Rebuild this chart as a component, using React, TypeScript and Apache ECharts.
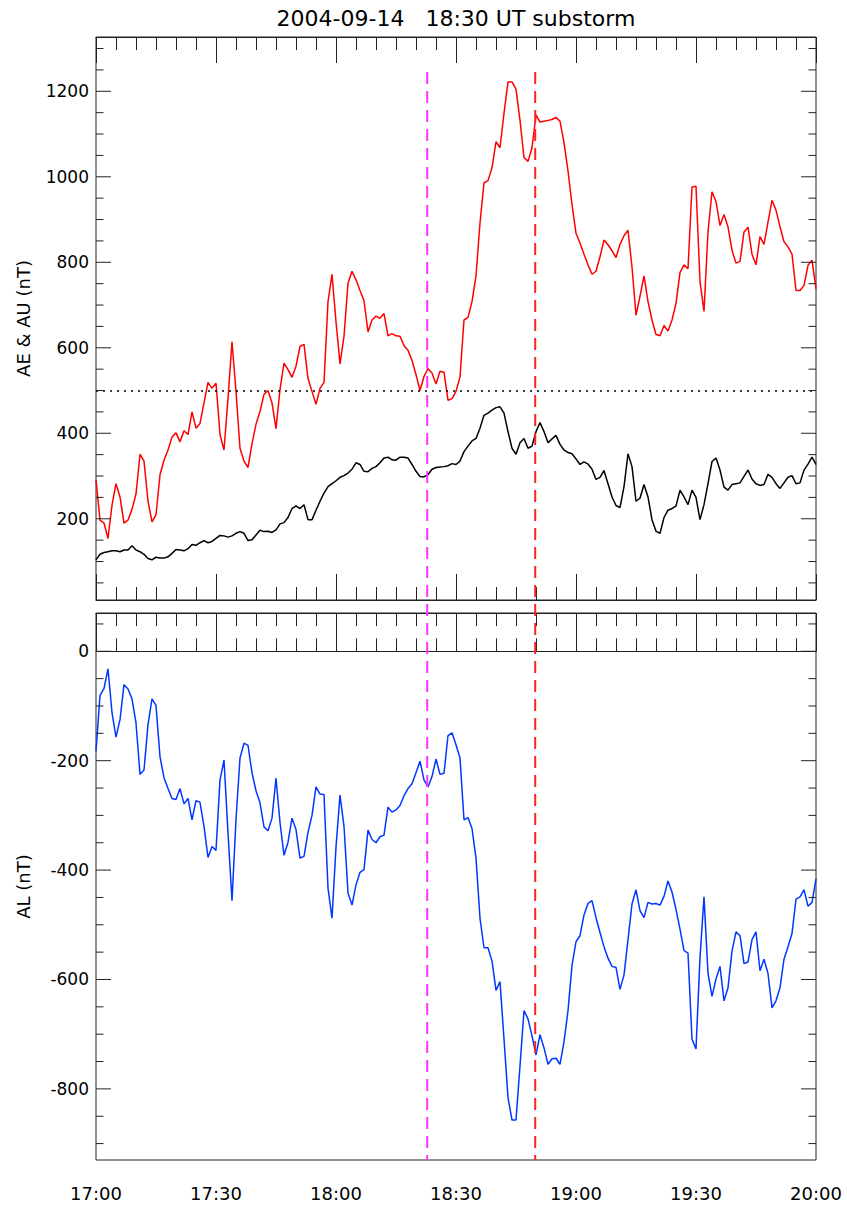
import React, { useEffect, useRef } from "react";
import * as echarts from "echarts";

// ---------- data (1-minute cadence starting 17:00 UT) ----------
const START_HOUR = 17;
const TITLE = "2004-09-14   18:30 UT substorm";

const AE = [
  292, 197, 190, 154, 232, 282, 251, 190, 197, 222, 258, 351, 335, 241, 193, 209, 303, 337, 361, 391,
  401, 380, 406, 397, 450, 412, 423, 471, 519, 505, 517, 397, 361, 481, 614, 498, 365, 335, 320, 376,
  421, 451, 491, 500, 471, 411, 502, 564, 549, 531, 557, 603, 608, 528, 498, 468, 505, 519, 708, 772,
  661, 562, 627, 751, 779, 759, 734, 710, 637, 665, 674, 669, 680, 628, 633, 628, 627, 605, 594, 571,
  537, 500, 533, 551, 541, 515, 545, 543, 477, 481, 498, 532, 665, 671, 708, 768, 892, 986, 991, 1021,
  1082, 1068, 1149, 1222, 1222, 1205, 1132, 1045, 1036, 1068, 1145, 1128, 1130, 1132, 1134, 1139, 1130, 1080, 1014, 935,
  868, 845, 819, 794, 772, 779, 813, 852, 841, 827, 811, 842, 862, 875, 789, 676, 721, 768, 708, 665,
  631, 628, 652, 639, 665, 704, 776, 794, 785, 976, 978, 755, 685, 871, 965, 942, 886, 912, 883, 828,
  798, 802, 871, 882, 819, 794, 860, 842, 894, 945, 922, 883, 848, 836, 819, 734, 734, 746, 793, 805,
  738,
];

const AU = [
  104, 117, 121, 123, 125, 125, 123, 127, 127, 137, 127, 123, 117, 107, 104, 110, 108, 108, 111, 119,
  128, 127, 125, 130, 140, 138, 144, 149, 144, 147, 154, 161, 160, 157, 160, 166, 170, 166, 149, 151,
  162, 173, 170, 171, 168, 174, 188, 191, 203, 224, 230, 224, 233, 198, 198, 220, 241, 260, 275, 282,
  289, 297, 301, 307, 316, 331, 327, 311, 310, 318, 322, 331, 342, 344, 338, 337, 344, 344, 342, 327,
  311, 299, 298, 303, 316, 320, 321, 322, 324, 329, 327, 335, 357, 370, 382, 388, 412, 442, 447, 454,
  460, 462, 447, 404, 365, 351, 378, 388, 365, 370, 404, 425, 404, 378, 387, 395, 374, 361, 355, 352,
  340, 327, 333, 328, 316, 292, 297, 313, 282, 251, 231, 226, 275, 352, 322, 241, 248, 280, 251, 198,
  171, 166, 203, 220, 224, 230, 267, 251, 233, 267, 250, 198, 233, 282, 334, 342, 314, 274, 267, 280,
  282, 284, 299, 314, 293, 282, 278, 280, 304, 297, 282, 271, 284, 297, 301, 282, 284, 314, 328, 344,
  327,
];

const AL = [
  -183, -81, -68, -32, -112, -157, -125, -61, -69, -87, -131, -225, -217, -134, -87, -99, -193, -231, -251, -269,
  -271, -251, -279, -269, -308, -273, -276, -320, -377, -357, -364, -235, -199, -332, -456, -307, -195, -168, -172, -222,
  -255, -277, -321, -328, -305, -232, -313, -373, -349, -305, -326, -378, -375, -331, -300, -248, -261, -262, -433, -488,
  -358, -263, -320, -442, -464, -427, -404, -399, -327, -344, -350, -339, -336, -285, -294, -290, -282, -264, -251, -242,
  -222, -201, -235, -248, -229, -197, -225, -223, -154, -149, -171, -195, -308, -304, -324, -378, -488, -542, -542, -566,
  -620, -604, -709, -816, -857, -857, -758, -657, -672, -703, -738, -701, -725, -755, -745, -744, -755, -714, -657, -574,
  -531, -520, -482, -461, -456, -487, -514, -540, -561, -576, -578, -618, -592, -527, -462, -436, -474, -487, -459, -462,
  -461, -464, -448, -420, -440, -472, -508, -547, -552, -709, -727, -560, -449, -589, -631, -599, -576, -639, -615, -548,
  -513, -520, -571, -568, -527, -513, -584, -563, -589, -652, -639, -615, -563, -540, -516, -453, -449, -436, -466, -459,
  -416,
];

const TOP_LABELS = [200, 400, 600, 800, 1000, 1200];
const BOTTOM_LABELS = [0, -200, -400, -600, -800];
const MINOR_STEP = 50;
const TOP_RANGE = [10, 1327];
const BOTTOM_RANGE = [-930, 70];
const X_RANGE = [0, 180];
const THRESHOLD = 500;
const EVENTS = [
  { t: 82.8, color: "#ff33ff" },
  { t: 109.8, color: "#ff2020" },
];
const EVENT_TOP_VALUE = 1245;

// ---------- layout ----------
const W = 847;
const H = 1209;
const LEFT = 96;
const PW = 720;
const G1 = { top: 37, height: 563 };
const G2 = { top: 613, height: 547 };
const FONT = '"DejaVu Sans", "Liberation Sans", sans-serif';
const AXIS_COLOR = "#222";

function fmtTime(v: number) {
  const h = START_HOUR + Math.floor(v / 60);
  const m = Math.round(v % 60);
  return `${h}:${m < 10 ? "0" + m : m}`;
}

function tickValues(range: number[]) {
  const out: number[] = [];
  for (let v = Math.ceil(range[0] / MINOR_STEP) * MINOR_STEP; v <= range[1]; v += MINOR_STEP) out.push(v);
  return out;
}

function xAxis(gridIndex: number, position: string, showLabels: boolean) {
  return {
    type: "value",
    gridIndex,
    position,
    min: X_RANGE[0],
    max: X_RANGE[1],
    interval: 30,
    axisLine: { show: true, lineStyle: { color: AXIS_COLOR, width: 1 } },
    axisTick: { show: true, inside: true, length: 26, lineStyle: { color: AXIS_COLOR, width: 1 } },
    minorTick: { show: true, splitNumber: 6, length: 13, lineStyle: { color: AXIS_COLOR, width: 1 } },
    splitLine: { show: false },
    minorSplitLine: { show: false },
    axisLabel: {
      show: showLabels,
      formatter: (v: number) => fmtTime(v),
      fontSize: 18,
      fontFamily: FONT,
      color: "#000",
      margin: 24,
    },
  };
}

function yAxis(gridIndex: number, range: number[], name: string) {
  return {
    type: "value",
    gridIndex,
    min: range[0],
    max: range[1],
    axisLine: { show: false },
    axisTick: { show: false },
    axisLabel: { show: false },
    splitLine: { show: false },
    name,
    nameLocation: "middle",
    nameGap: 64,
    nameRotate: 90,
    nameTextStyle: { fontSize: 18, fontFamily: FONT, color: "#000" },
  };
}

function yTickSeries(xAxisIndex: number, yAxisIndex: number, range: number[], labels: number[]) {
  return {
    type: "custom",
    xAxisIndex,
    yAxisIndex,
    clip: false,
    silent: true,
    z: 5,
    data: tickValues(range).map((v) => [X_RANGE[0], v]),
    encode: { x: 0, y: 1 },
    renderItem: (params: any, api: any) => {
      const v = api.value(1);
      const L = api.coord([X_RANGE[0], v]);
      const R = api.coord([X_RANGE[1], v]);
      const major = labels.indexOf(v) >= 0;
      const len = major ? 15 : 7.5;
      const style = { stroke: AXIS_COLOR, lineWidth: 1 };
      const children: any[] = [
        { type: "line", shape: { x1: L[0], y1: L[1], x2: L[0] + len, y2: L[1] }, style },
        { type: "line", shape: { x1: R[0] - len, y1: R[1], x2: R[0], y2: R[1] }, style },
      ];
      if (major) {
        children.push({
          type: "text",
          x: L[0] - 7,
          y: L[1],
          style: {
            text: String(v),
            align: "right",
            verticalAlign: "middle",
            font: `17px ${FONT}`,
            fill: "#000",
          },
        });
      }
      return { type: "group", children };
    },
  };
}

export default function App() {
  const ref = useRef<HTMLDivElement>(null);

  useEffect(() => {
    if (!ref.current) return;
    const chart = echarts.init(ref.current, null, { renderer: "svg", width: W, height: H });
    const bottomY = G2.top + G2.height;

    const option: any = {
      animation: false,
      backgroundColor: "#fff",
      graphic: [
        {
          type: "text",
          x: LEFT + PW / 2,
          y: 18,
          style: {
            text: TITLE,
            align: "center",
            verticalAlign: "middle",
            font: `22px ${FONT}`,
            fill: "#000",
          },
        },
      ],
      grid: [
        { left: LEFT, top: G1.top, width: PW, height: G1.height, show: true, borderColor: AXIS_COLOR, borderWidth: 1, backgroundColor: "transparent" },
        { left: LEFT, top: G2.top, width: PW, height: G2.height, show: true, borderColor: AXIS_COLOR, borderWidth: 1, backgroundColor: "transparent" },
      ],
      xAxis: [
        xAxis(0, "bottom", false),
        xAxis(0, "top", false),
        xAxis(1, "bottom", true),
        xAxis(1, "top", false),
      ],
      yAxis: [yAxis(0, TOP_RANGE, "AE & AU (nT)"), yAxis(1, BOTTOM_RANGE, "AL (nT)")],
      series: [
        {
          name: "AE",
          type: "line",
          xAxisIndex: 0,
          yAxisIndex: 0,
          data: AE.map((v, i) => [i, v]),
          showSymbol: false,
          lineStyle: { color: "#ff0000", width: 1.5 },
          itemStyle: { color: "#ff0000" },
          z: 3,
          markLine: {
            silent: true,
            symbol: ["none", "none"],
            label: { show: false },
            lineStyle: { color: "#000", type: [2, 5], width: 1.5 },
            data: [{ yAxis: THRESHOLD }],
          },
        },
        {
          name: "AU",
          type: "line",
          xAxisIndex: 0,
          yAxisIndex: 0,
          data: AU.map((v, i) => [i, v]),
          showSymbol: false,
          lineStyle: { color: "#000", width: 1.5 },
          itemStyle: { color: "#000" },
          z: 3,
        },
        {
          name: "AL",
          type: "line",
          xAxisIndex: 2,
          yAxisIndex: 1,
          data: AL.map((v, i) => [i, v]),
          showSymbol: false,
          lineStyle: { color: "#0038ff", width: 1.5 },
          itemStyle: { color: "#0038ff" },
          z: 3,
        },
        {
          type: "custom",
          xAxisIndex: 0,
          yAxisIndex: 0,
          clip: false,
          silent: true,
          z: 4,
          data: EVENTS.map((e) => [e.t, EVENT_TOP_VALUE]),
          encode: { x: 0, y: 1 },
          renderItem: (params: any, api: any) => {
            const p = api.coord([api.value(0), api.value(1)]);
            return {
              type: "line",
              shape: { x1: p[0], y1: p[1], x2: p[0], y2: bottomY },
              style: { stroke: EVENTS[params.dataIndex].color, lineWidth: 2, lineDash: [12, 7] },
            };
          },
        },
        yTickSeries(0, 0, TOP_RANGE, TOP_LABELS),
        yTickSeries(2, 1, BOTTOM_RANGE, BOTTOM_LABELS),
      ],
    };

    chart.setOption(option);
    return () => chart.dispose();
  }, []);

  return (
    <div
      ref={ref}
      style={{ position: "absolute", left: 0, top: 0, width: W, height: H, background: "#fff" }}
    />
  );
}
